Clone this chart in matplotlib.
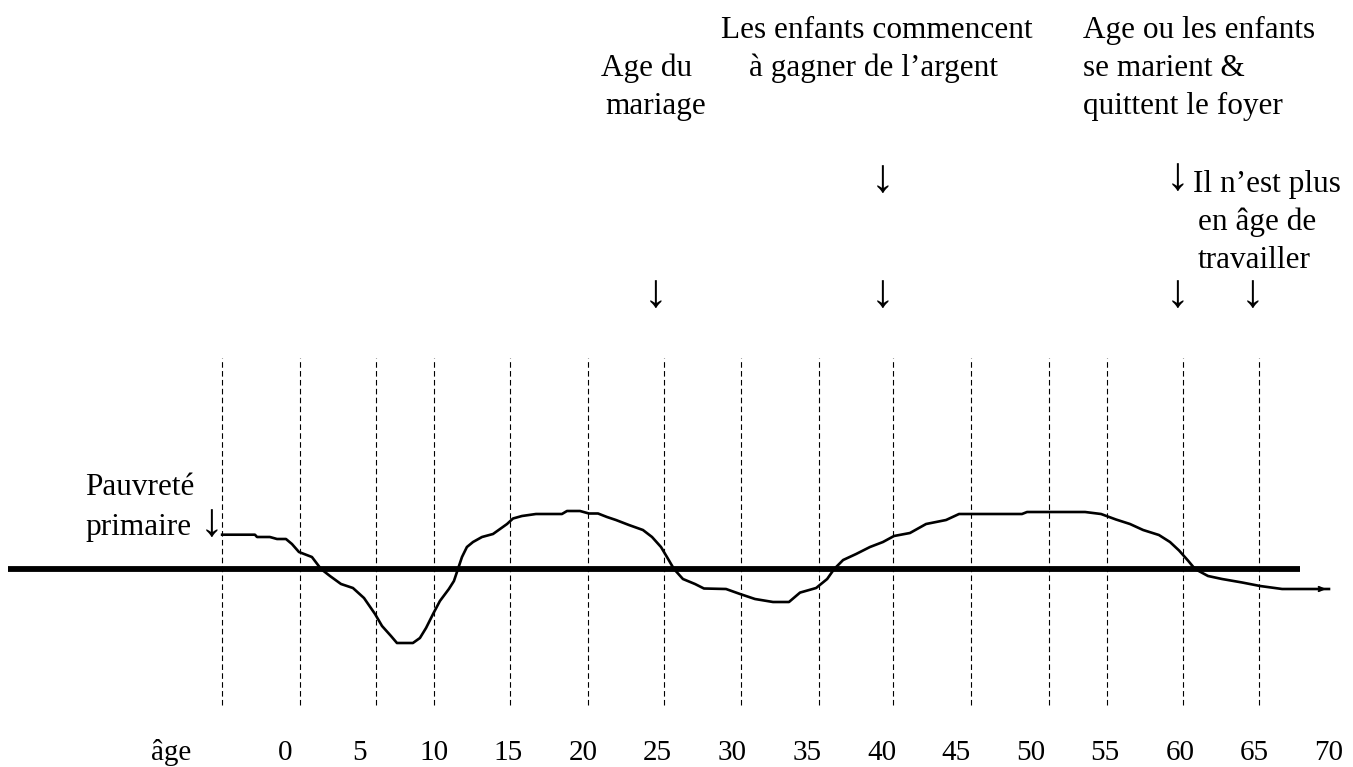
import matplotlib
matplotlib.use("Agg")
import matplotlib.pyplot as plt

plt.rcParams['font.family'] = ['Liberation Serif', 'DejaVu Serif']

W, H = 1353, 767

# revenu de la famille au fil de la vie (0 = seuil de pauvreté primaire)
ages = [-4.2, -2.0, -1.86, -1.0, -0.52, 0.08, 0.48, 0.95, 1.82, 2.43,
        3.03, 3.77, 4.57, 5.31, 6.05, 6.52, 7.12, 7.52, 8.59, 9.06,
        9.47, 9.94, 10.4, 11.0, 11.34, 11.61, 11.88, 12.21, 12.62, 13.22,
        13.96, 14.43, 14.9, 15.3, 15.9, 16.84, 18.58, 18.92, 19.79, 20.39,
        21.0, 21.6, 22.2, 23.07, 24.01, 24.62, 25.22, 25.62, 26.09, 26.69,
        27.5, 28.1, 29.58, 30.52, 31.52, 32.73, 33.8, 34.54, 35.62, 36.36,
        36.83, 37.43, 38.3, 39.23, 40.1, 40.84, 41.91, 42.99, 44.33, 45.2,
        49.42, 49.76, 53.65, 54.72, 55.72, 56.66, 57.54, 58.6, 59.34, 59.95,
        60.55, 61.02, 61.89, 62.83, 64.18, 65.38, 66.86, 69.27, 70.0]
niveau = [3.43, 3.43, 3.2, 3.2, 3.0, 3.0, 2.5, 1.7, 1.2, 0.0,
          -0.7, -1.5, -1.9, -2.9, -4.5, -5.7, -6.7, -7.4, -7.4, -6.9,
          -5.9, -4.5, -3.2, -2.0, -1.2, 0.0, 1.2, 2.2, 2.7, 3.2,
          3.5, 4.0, 4.5, 5.05, 5.3, 5.5, 5.5, 5.8, 5.8, 5.55,
          5.55, 5.2, 4.9, 4.4, 3.9, 3.2, 2.2, 1.2, 0.0, -1.0,
          -1.5, -1.95, -2.0, -2.5, -3.0, -3.3, -3.3, -2.36, -1.9, -1.0,
          0.0, 0.9, 1.5, 2.2, 2.7, 3.3, 3.6, 4.5, 4.9, 5.5,
          5.5, 5.7, 5.7, 5.5, 4.95, 4.5, 3.9, 3.4, 2.7, 1.85,
          0.84, 0.0, -0.7, -1.0, -1.35, -1.7, -2.0, -2.0, -2.0]

seuil = 0.0
seuil_debut, seuil_fin = -18.56, 68.06

reperes = [-4.2, 1.0, 6.1, 10.0, 15.1, 20.3, 25.4, 30.6, 35.8, 40.8,
           46.0, 51.2, 55.1, 60.2, 65.3]
graduations = [0, 5, 10, 15, 20, 25, 30, 35, 40, 45, 50, 55, 60, 65, 70]


def px(x, y):
    # position en pixels -> fraction de figure
    return x / W, 1 - y / H


fig = plt.figure(figsize=(W / 100, H / 100), dpi=100)
ax = fig.add_axes([0, 0, 1, 1])
ax.set_xlim(-19.09, 71.61)
ax.set_ylim(-19.8, 56.9)
ax.axis('off')

ax.vlines(reperes, -13.6, 21.1, colors='black', linewidth=0.8,
          linestyles=(0, (5, 3)))
ax.hlines(seuil, seuil_debut, seuil_fin, colors='black', linewidth=4.2)
ax.plot(ages, niveau, color='black', linewidth=1.9)
ax.annotate('', xy=(ages[-1], niveau[-1]), xytext=(ages[-2], niveau[-2]),
            arrowprops=dict(arrowstyle='->,head_length=0.35,head_width=0.15',
                            color='black', lw=1.5))

fs = 22.5
for g in graduations:
    fig.text((284.8 + 14.917 * g) / W, 1 - 760 / H, str(g), fontsize=21,
             ha='center', va='baseline')
fig.text(*px(171, 760), 'âge', fontsize=21, ha='center', va='baseline')

textes = [
    (601, 76, 'Age du'),
    (605, 114, 'mariage'),
    (721, 38, 'Les enfants commencent'),
    (749, 76, 'à gagner de l’argent'),
    (1083, 38, 'Age ou les enfants'),
    (1083, 76, 'se marient &'),
    (1083, 114, 'quittent le foyer'),
    (1193, 192, 'Il n’est plus'),
    (1198, 230, 'en âge de'),
    (1198, 268, 'travailler'),
    (85, 495, 'Pauvreté'),
    (85, 535, 'primaire'),
]
for x, y, t in textes:
    fig.text(*px(x, y), t, fontsize=fs, ha='left', va='baseline')

fleches = [(882, 192), (1177, 190), (211, 536),
           (655, 307), (882, 307), (1177, 307), (1252, 307)]
for x, y in fleches:
    fig.text(*px(x, y), '↓', fontsize=34, ha='center', va='baseline')

fig.savefig('out.png', dpi=100)
